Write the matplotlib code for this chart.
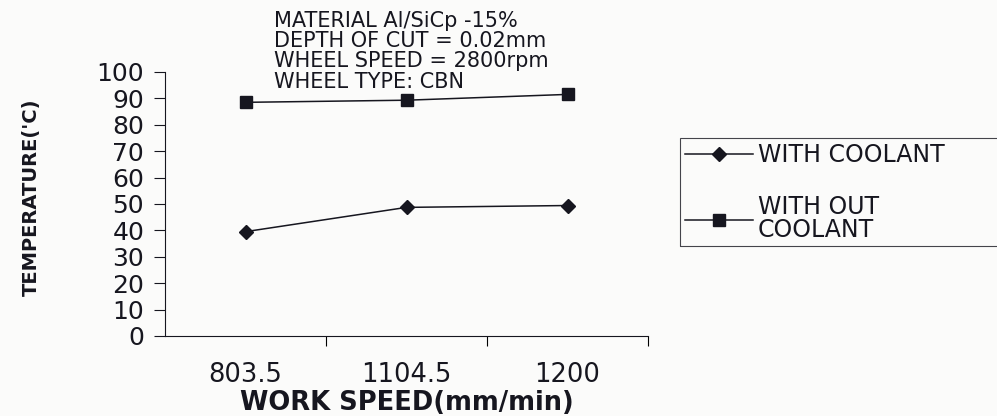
"""Grinding temperature vs work speed, with and without coolant."""
import matplotlib
matplotlib.use("Agg")
import matplotlib.pyplot as plt

work_speed_labels = ["803.5", "1104.5", "1200"]
with_coolant = [39.5, 48.7, 49.4]
without_coolant = [88.5, 89.3, 91.5]
y_ticks = [0, 10, 20, 30, 40, 50, 60, 70, 80, 90, 100]
info_lines = [
    "MATERIAL Al/SiCp -15%",
    "DEPTH OF CUT = 0.02mm",
    "WHEEL SPEED = 2800rpm",
    "WHEEL TYPE: CBN",
]

INK = "#16161f"
# the scanned chart is stretched sideways, so the wider DejaVu glyphs fit better
plt.rcParams["font.family"] = ["DejaVu Sans"]

fig = plt.figure(figsize=(9.97, 4.16), dpi=100, facecolor="#fbfbfa")
ax = fig.add_axes([0.1655, 0.1925, 0.4845, 0.6345])
ax.set_facecolor("none")

x = list(range(len(work_speed_labels)))
ax.plot(x, with_coolant, color=INK, lw=1.1, marker="D", ms=7,
        label="WITH COOLANT")
ax.plot(x, without_coolant, color=INK, lw=1.1, marker="s", ms=9,
        label="WITH OUT\nCOOLANT")

ax.set_xlim(-0.5, 2.5)
ax.set_ylim(0, 100)
ax.set_yticks(y_ticks)
ax.tick_params(axis="y", direction="out", length=8, width=0.8,
               labelsize=18, pad=7, colors=INK)
ax.set_xticks(x)
ax.set_xticklabels(work_speed_labels)
ax.tick_params(axis="x", length=0, labelsize=18.5, pad=19, colors=INK)
ax.set_xticks([0.5, 1.5, 2.5], minor=True)
ax.tick_params(axis="x", which="minor", direction="out", length=7, width=0.8)

for side in ("top", "right"):
    ax.spines[side].set_visible(False)
for side in ("left", "bottom"):
    ax.spines[side].set_color(INK)
    ax.spines[side].set_linewidth(0.8)

ax.set_xlabel("WORK SPEED(mm/min)", fontsize=18.5, fontweight="bold",
              color=INK, labelpad=1)
fig.text(0.031, 0.525, "TEMPERATURE('C)", rotation=90, fontsize=14,
         fontweight="bold", color=INK, ha="center", va="center")

fig.text(0.275, 0.974, "\n".join(info_lines), fontsize=15, color=INK,
         ha="left", va="top", linespacing=1.02)

# legend box runs past the right edge of the page, as in the scan
leg = fig.legend(loc="upper left", bbox_to_anchor=(0.682, 0.668, 0.34, 0),
                 mode="expand", borderaxespad=0, fontsize=17, frameon=True,
                 fancybox=False, handlelength=2.9, handletextpad=0.2,
                 borderpad=0.2, labelspacing=1.2, labelcolor=INK)
leg.get_texts()[1].set_linespacing(0.92)
leg.get_frame().set_edgecolor(INK)
leg.get_frame().set_linewidth(0.8)
leg.get_frame().set_facecolor("none")

fig.savefig("out.png", dpi=100, facecolor=fig.get_facecolor())
